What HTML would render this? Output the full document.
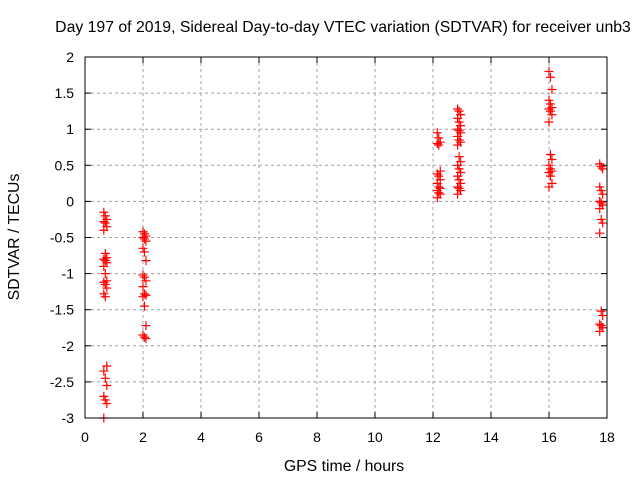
<!DOCTYPE html>
<html><head><meta charset="utf-8"><style>
body{margin:0;background:#fff}
svg text{font-family:"Liberation Sans",sans-serif;font-size:14px;fill:#000}
svg text.big{font-size:15.8px}
</style></head><body>
<svg id="c" width="640" height="480" xmlns="http://www.w3.org/2000/svg">
<text class="big" x="343" y="32" text-anchor="middle">Day 197 of 2019, Sidereal Day-to-day VTEC variation (SDTVAR) for receiver unb3</text>
<text class="big" x="344" y="471" text-anchor="middle">GPS time / hours</text>
<text class="big" transform="translate(19,237) rotate(-90)" text-anchor="middle">SDTVAR / TECUs</text>
<g id="grid"></g><g id="ticks"></g><g id="pts"></g>
<rect x="85" y="57" width="522" height="361" fill="none" stroke="#000"/>
</svg>
<script>
const xTicks=[0,2,4,6,8,10,12,14,16,18];
const yTicks=[2,1.5,1,0.5,0,-0.5,-1,-1.5,-2,-2.5,-3];
const yTickLabels=["2","1.5","1","0.5","0","-0.5","-1","-1.5","-2","-2.5","-3"];
const clusterTimes=[0.7,2.05,12.2,12.9,16.05,17.8];
const values0=[-0.15,-0.2,-0.25,-0.28,-0.3,-0.35,-0.4,-0.72,-0.78,-0.8,-0.82,-0.85,-0.9,-1.0,-1.1,-1.12,-1.15,-1.2,-1.28,-1.32,-2.28,-2.35,-2.45,-2.55,-2.7,-2.75,-2.8,-3.0];
const values1=[-0.42,-0.45,-0.48,-0.5,-0.52,-0.55,-0.65,-0.7,-0.82,-1.02,-1.05,-1.1,-1.18,-1.28,-1.3,-1.32,-1.45,-1.72,-1.85,-1.88,-1.9];
const values2=[0.95,0.88,0.82,0.8,0.78,0.42,0.38,0.35,0.3,0.25,0.2,0.18,0.15,0.12,0.1,0.05];
const values3=[1.28,1.25,1.2,1.15,1.1,1.05,1.0,0.98,0.95,0.9,0.85,0.82,0.78,0.62,0.55,0.5,0.45,0.4,0.35,0.3,0.25,0.2,0.18,0.15,0.1];
const values4=[1.8,1.72,1.55,1.4,1.35,1.3,1.28,1.25,1.2,1.1,0.65,0.58,0.5,0.45,0.42,0.4,0.35,0.25,0.2];
const values5=[0.52,0.48,0.45,0.2,0.15,0.1,0,-0.02,-0.05,-0.1,-0.25,-0.3,-0.44,-1.52,-1.58,-1.7,-1.72,-1.75,-1.8];
const allValues=[values0,values1,values2,values3,values4,values5];
const NS="http://www.w3.org/2000/svg";
const X=v=>85+v*(522/18), Y=v=>57+(2-v)*(361/5);
function mk(t,a,p){const e=document.createElementNS(NS,t);for(const k in a)e.setAttribute(k,a[k]);p.appendChild(e);return e;}
const g=document.getElementById('grid'),tk=document.getElementById('ticks'),pts=document.getElementById('pts');
xTicks.forEach(v=>{const x=X(v);
 if(v>0&&v<18){const l=mk('line',{x1:x,x2:x,y1:57,y2:418,stroke:'#a0a0a0','stroke-dasharray':'3,3'},g);}
 mk('line',{x1:x,x2:x,y1:418,y2:412,stroke:'#000'},tk);mk('line',{x1:x,x2:x,y1:57,y2:63,stroke:'#000'},tk);
 const t=mk('text',{x:x,y:442,'text-anchor':'middle'},tk);t.textContent=v;
 });
yTicks.forEach((v,i)=>{const y=Y(v);
 if(v<2&&v>-3){const l=mk('line',{x1:85,x2:607,y1:y,y2:y,stroke:'#a0a0a0','stroke-dasharray':'3,3'},g);}
 mk('line',{x1:85,x2:91,y1:y,y2:y,stroke:'#000'},tk);mk('line',{x1:601,x2:607,y1:y,y2:y,stroke:'#000'},tk);
 const t=mk('text',{x:74,y:y+5,'text-anchor':'end'},tk);t.textContent=yTickLabels[i];
 });
allValues.forEach((vals,ci)=>{vals.forEach((v,j)=>{
 const x=X(clusterTimes[ci])+((j%3)-1)*1.5, y=Y(v);
 const p=mk('path',{d:`M${x-4.5},${y}H${x+4.5}M${x},${y-4.5}V${y+4.5}`,stroke:'#f00','stroke-width':1.2,fill:'none'},pts);
 
 });});
</script>
</body></html>
